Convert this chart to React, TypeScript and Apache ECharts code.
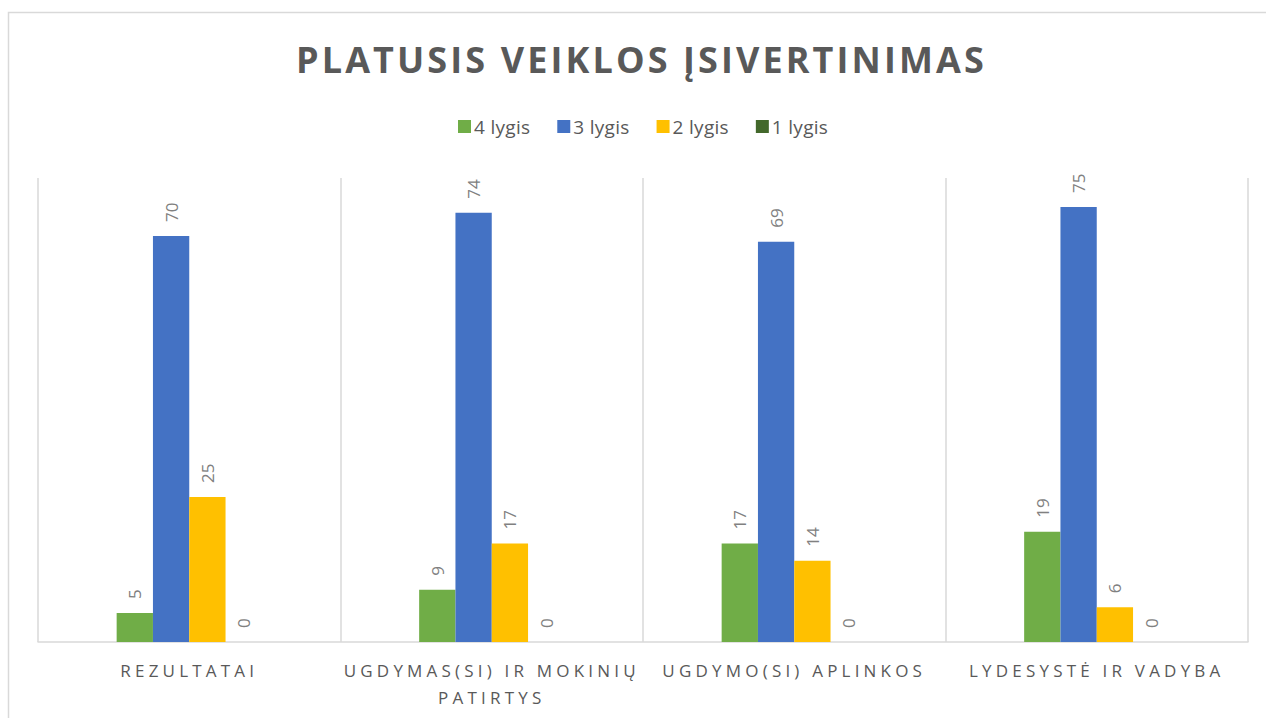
import React, { useEffect, useRef } from "react";
import * as echarts from "echarts";

const categories = [
  "REZULTATAI",
  "UGDYMAS(SI) IR MOKINIŲ PATIRTYS",
  "UGDYMO(SI) APLINKOS",
  "LYDESYSTĖ IR VADYBA",
];
const seriesNames = ["4 lygis", "3 lygis", "2 lygis", "1 lygis"];
const level4 = [5, 9, 17, 19];
const level3 = [70, 74, 69, 75];
const level2 = [25, 17, 14, 6];
const level1 = [0, 0, 0, 0];
const colors = ["#70AD47", "#4472C4", "#FFC000", "#43682B"];
const titleText = "PLATUSIS VEIKLOS ĮSIVERTINIMAS";

function wrap(s: string, max: number): string {
  const words = s.split(" ");
  const lines: string[] = [];
  let cur = "";
  for (const w of words) {
    const cand = cur ? cur + " " + w : w;
    if (cand.length > max && cur) {
      lines.push(cur);
      cur = w;
    } else cur = cand;
  }
  if (cur) lines.push(cur);
  return lines.join("\n");
}

export default function App() {
  const ref = useRef<HTMLDivElement>(null);
  useEffect(() => {
    if (!ref.current) return;
    const chart = echarts.init(ref.current, undefined, { renderer: "svg" });
    const data = [level4, level3, level2, level1];
    chart.setOption({
      animation: false,
      backgroundColor: "#ffffff",
      title: {
        text: titleText,
        left: 291,
        top: 36,
        textStyle: {
          fontFamily: "'Open Sans', xtitle",
          fontSize: 36,
          fontWeight: "bold",
          color: "#595959",
        },
      },
      legend: {
        data: seriesNames,
        top: 112,
        left: 453,
        itemWidth: 13,
        itemHeight: 13,
        itemGap: 29,
        icon: "rect",
        textStyle: {
          fontFamily: "'Open Sans', xlegend",
          fontSize: 19,
          color: "#595959",
          padding: [0, 0, 0, -2],
        },
      },
      graphic: [
        {
          type: "rect",
          shape: { x: 8.5, y: 12.5, width: 1300, height: 800 },
          style: { fill: "none", stroke: "#d9d9d9", lineWidth: 1.5 },
          silent: true,
        },
      ],
      grid: { left: 38, right: 18, top: 178, bottom: 76 },
      xAxis: {
        type: "category",
        data: categories,
        axisLine: { lineStyle: { color: "#d9d9d9", width: 1.5 } },
        axisTick: { show: false },
        splitLine: { show: true, lineStyle: { color: "#d9d9d9", width: 1.5 } },
        axisLabel: {
          fontFamily: "'Open Sans', xaxis",
          fontSize: 17,
          color: "#595959",
          lineHeight: 27,
          margin: 15,
          interval: 0,
          formatter: (v: string) => wrap(v, 22),
        },
      },
      yAxis: {
        type: "value",
        min: 0,
        max: 80,
        show: false,
        splitLine: { show: false },
      },
      series: data.map((d, i) => ({
        name: seriesNames[i],
        type: "bar",
        data: d,
        barGap: "0%",
        barCategoryGap: "52%",
        itemStyle: { color: colors[i] },
        label: {
          show: true,
          position: "top",
          rotate: 90,
          align: "left",
          verticalAlign: "middle",
          distance: 14,
          fontFamily: "'Open Sans', sans-serif",
          fontSize: 17,
          color: "#808080",
        },
      })),
    });
    return () => chart.dispose();
  }, []);
  return (
    <>
      <style>{`
        text[style*="xtitle"] { letter-spacing: 3.1px; }
        text[style*="xaxis"] { letter-spacing: 4.2px; }
        text[style*="xlegend"] { letter-spacing: 0.3px; }
      `}</style>
      <div
        ref={ref}
        style={{ position: "absolute", left: 0, top: 0, width: 1266, height: 718 }}
      />
    </>
  );
}
